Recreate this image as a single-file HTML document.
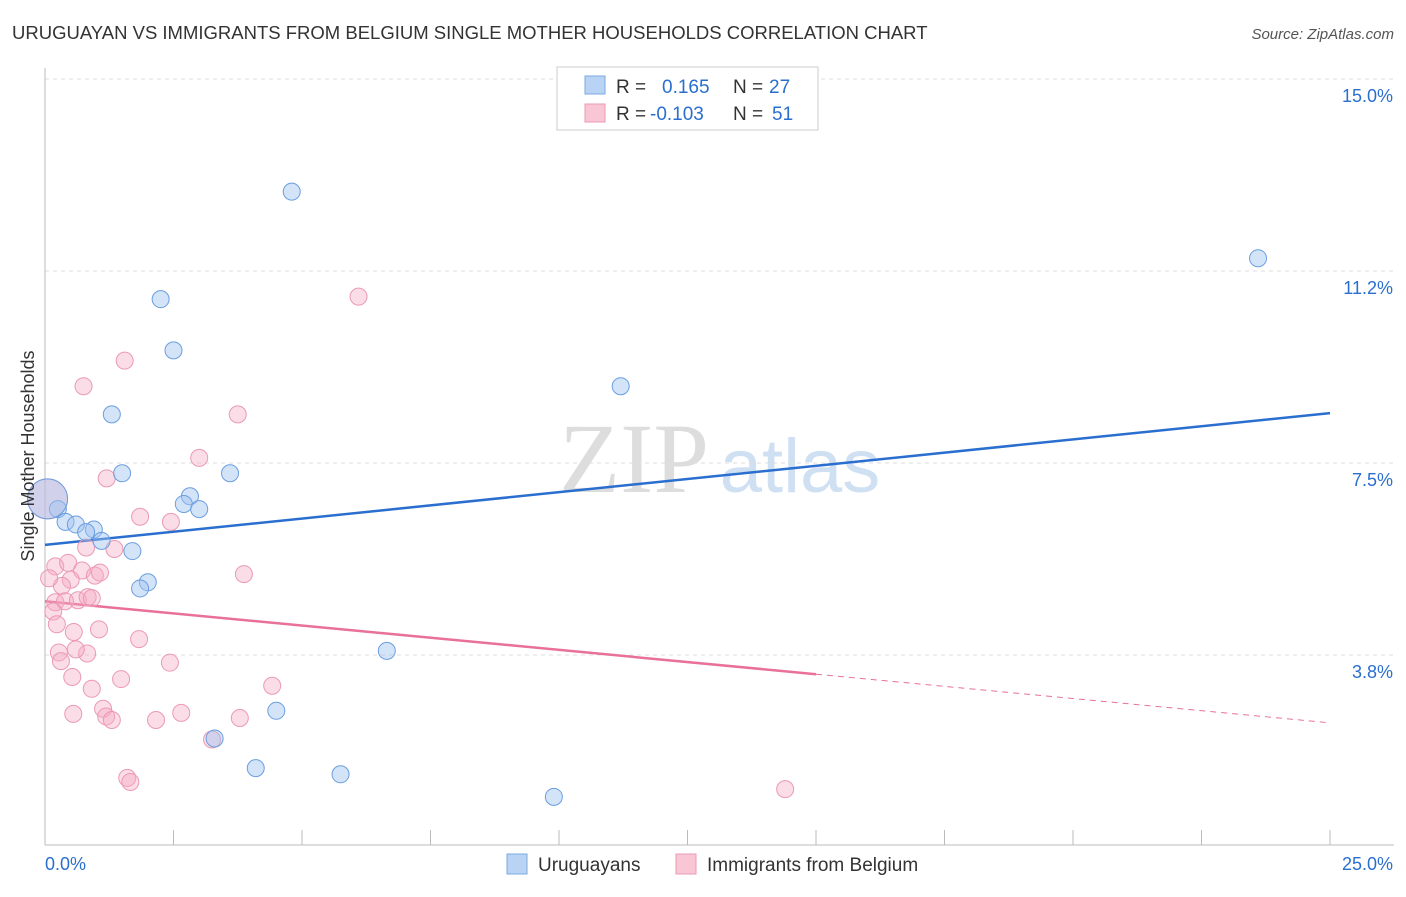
<!DOCTYPE html>
<html><head><meta charset="utf-8">
<style>
body{margin:0;background:#fff;font-family:"Liberation Sans",sans-serif;}
#wrap{position:relative;width:1406px;height:892px;}
</style></head>
<body><div id="wrap">
<svg id="svg" width="1406" height="892" xmlns="http://www.w3.org/2000/svg">
<text x="12" y="39" font-size="18.5" fill="#333">URUGUAYAN VS IMMIGRANTS FROM BELGIUM SINGLE MOTHER HOUSEHOLDS CORRELATION CHART</text>
<text x="1394" y="39" font-size="15" fill="#555" font-style="italic" text-anchor="end">Source: ZipAtlas.com</text>
<text x="634" y="492" font-size="100" fill="#ddd" font-family="Liberation Serif" text-anchor="middle">ZIP</text>
<text x="800" y="492" font-size="76" fill="#cfe0f3" text-anchor="middle">atlas</text>
<g id="grid"></g><g id="axes"></g><g id="lines"></g><g id="pts"></g>
<text x="34" y="456" font-size="18" fill="#333" text-anchor="middle" transform="rotate(-90 34 456)">Single Mother Households</text>
<g>
<rect x="557" y="67" width="261" height="63" fill="#fff" stroke="#ccc"/>
<rect x="585" y="76" width="20" height="18" fill="#b8d3f3" stroke="#7aa8e0"/>
<rect x="585" y="104" width="20" height="18" fill="#f8c6d5" stroke="#eb9ab4"/>
<text x="616" y="93" font-size="19" fill="#333">R = </text><text x="662" y="93" font-size="19" fill="#2a6fcf">0.165</text>
<text x="733" y="93" font-size="19" fill="#333">N = </text><text x="769" y="93" font-size="19" fill="#2a6fcf">27</text>
<text x="616" y="120" font-size="19" fill="#333">R = </text><text x="650" y="120" font-size="19" fill="#2a6fcf">-0.103</text>
<text x="733" y="120" font-size="19" fill="#333">N = </text><text x="772" y="120" font-size="19" fill="#2a6fcf">51</text>
</g>
<g>
<rect x="507" y="854" width="20" height="20" fill="#b8d3f3" stroke="#7aa8e0"/>
<text x="538" y="871" font-size="19" fill="#333">Uruguayans</text>
<rect x="676" y="854" width="20" height="20" fill="#f8c6d5" stroke="#eb9ab4"/>
<text x="707" y="871" font-size="19" fill="#333">Immigrants from Belgium</text>
</g>
</svg>
<script>
const xTicks=[0,25];
const yTicks=[3.75,7.5,11.25,15.0];
const yTickLabels=["3.8%","7.5%","11.2%","15.0%"];
const blueX=[4.8,2.25,2.5,1.3,1.5,3.6,2.82,2.7,3.0,0.25,0.4,0.6,0.95,0.8,1.1,1.7,2.0,1.85,6.65,4.5,3.3,4.1,5.75,9.9,11.2,23.6,0.05];
const blueY=[12.8,10.7,9.7,8.45,7.3,7.3,6.85,6.7,6.6,6.6,6.35,6.3,6.2,6.15,5.98,5.78,5.17,5.05,3.83,2.66,2.12,1.54,1.42,0.98,9.0,11.5,6.8];
const pinkX=[6.1,1.55,0.75,3.75,3.0,1.2,1.85,2.45,0.8,1.35,0.2,0.45,0.72,0.97,1.07,0.5,0.33,0.08,3.87,0.2,0.39,0.64,0.83,0.91,0.16,0.23,1.05,0.56,1.83,0.27,0.82,0.6,0.31,2.43,0.53,1.48,0.91,4.42,0.55,1.13,1.19,1.3,2.16,2.65,3.79,3.25,1.6,1.66,14.4,0.05];
const pinkY=[10.75,9.5,9.0,8.45,7.6,7.2,6.45,6.35,5.85,5.82,5.48,5.55,5.4,5.3,5.36,5.22,5.1,5.25,5.33,4.78,4.8,4.82,4.88,4.86,4.6,4.35,4.25,4.2,4.06,3.8,3.78,3.86,3.63,3.6,3.32,3.28,3.09,3.15,2.6,2.7,2.55,2.48,2.48,2.62,2.52,2.1,1.35,1.27,1.13,6.8];
const NS='http://www.w3.org/2000/svg';
const X0=45,X1=1330,Y0=847,PY=51.2;
function sx(v){return X0+(X1-X0)*v/25;}
function sy(v){return Y0-PY*v;}
function mk(tag,attrs,parent){const e=document.createElementNS(NS,tag);for(const k in attrs)e.setAttribute(k,attrs[k]);document.getElementById(parent).appendChild(e);return e;}
yTicks.forEach((t,i)=>{
 const g=mk('line',{x1:45,x2:1394,y1:sy(t),y2:sy(t),stroke:'#ddd','stroke-dasharray':'4 4'},'grid');
 
 
 const l=mk('text',{x:1393,y:sy(t)+23,'font-size':18,fill:'#2a6fcf','text-anchor':'end'},'axes');
 l.textContent=yTickLabels[i];
 
 
});
const ya=mk('line',{x1:45,x2:45,y1:68,y2:845,stroke:'#bbb'},'axes');


const xa=mk('line',{x1:45,x2:1394,y1:845,y2:845,stroke:'#bbb'},'axes');


for(let i=0;i<=10;i++){const t=mk('line',{x1:sx(i*2.5),x2:sx(i*2.5),y1:830,y2:845,stroke:'#bbb'},'axes');
 
 }
xTicks.forEach((t,i)=>{const l=mk('text',{x:i==0?45:1393,y:870,'font-size':18,fill:'#2a6fcf','text-anchor':i==0?'start':'end'},'axes');
 l.textContent=t.toFixed(1)+'%';
 
 });
const bf=[0.103,5.9], pf=[-0.095,4.8];
const bl=mk('line',{x1:sx(0),y1:sy(bf[1]),x2:sx(25),y2:sy(bf[1]+bf[0]*25),stroke:'#2a6fcf','stroke-width':2.5},'lines');


const pl=mk('line',{x1:sx(0),y1:sy(pf[1]),x2:sx(15),y2:sy(pf[1]+pf[0]*15),stroke:'#e8709a','stroke-width':2.5},'lines');


const pd=mk('line',{x1:sx(15),y1:sy(pf[1]+pf[0]*15),x2:sx(25),y2:sy(pf[1]+pf[0]*25),stroke:'#e8709a','stroke-width':1,'stroke-dasharray':'6 5'},'lines');


pinkX.forEach((v,i)=>{const big=i==pinkX.length-1;const c=mk('circle',{cx:sx(v),cy:sy(pinkY[i]),r:big?20:8.5,fill:'rgba(245,170,195,0.4)',stroke:'#eb9ab4','stroke-width':1},'pts');
 
 });
blueX.forEach((v,i)=>{const big=i==blueX.length-1;const c=mk('circle',{cx:sx(v),cy:sy(blueY[i]),r:big?20:8.5,fill:'rgba(160,195,240,0.45)',stroke:'#6a9ee0','stroke-width':1},'pts');
 
 });
</script>
</div></body></html>
